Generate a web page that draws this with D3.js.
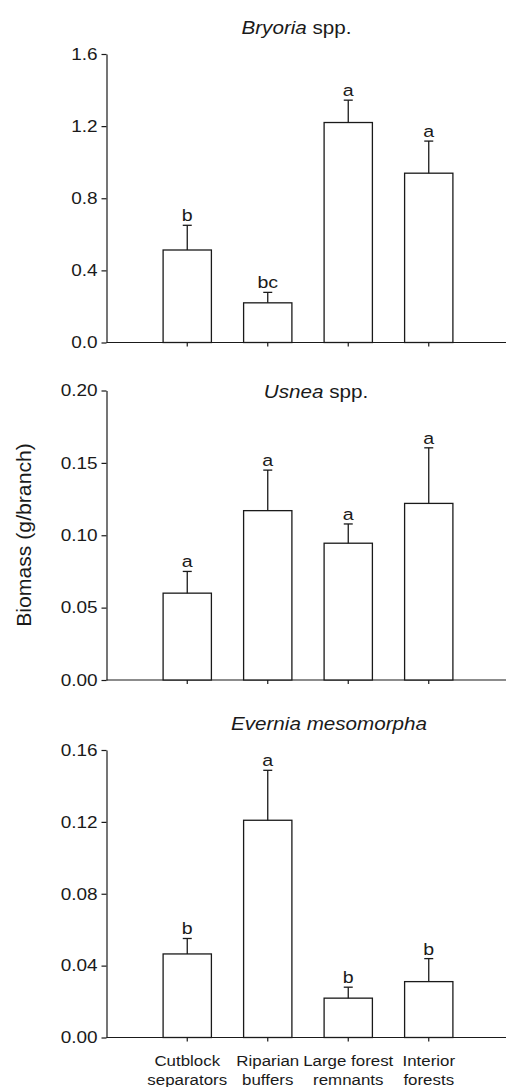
<!DOCTYPE html>
<html>
<head>
<meta charset="utf-8">
<script src="https://cdn.jsdelivr.net/npm/d3@7"></script>
<style>
  body { margin: 0; background: #fff; }
  svg { display: block; font-family: "Liberation Sans", Arial, sans-serif; }
</style>
</head>
<body>
<div id="chart"></div>
<script>
// Categories (habitat types) and the per-panel values
const categories = ["Cutblock separators", "Riparian buffers", "Large forest remnants", "Interior forests"];
const categoryLines = [["Cutblock", "separators"], ["Riparian", "buffers"], ["Large forest", "remnants"], ["Interior", "forests"]];

const bryoriaMean = [0.513, 0.220, 1.220, 0.939];
const bryoriaSE = [0.137, 0.058, 0.124, 0.178];
const bryoriaLetters = ["b", "bc", "a", "a"];
const bryoriaTicks = [0, 0.4, 0.8, 1.2, 1.6];

const usneaMean = [0.060, 0.117, 0.0945, 0.122];
const usneaSE = [0.015, 0.028, 0.0133, 0.0384];
const usneaLetters = ["a", "a", "a", "a"];
const usneaTicks = [0, 0.05, 0.10, 0.15, 0.20];

const everniaMean = [0.0465, 0.1209, 0.0219, 0.0311];
const everniaSE = [0.0086, 0.0278, 0.0061, 0.0128];
const everniaLetters = ["b", "a", "b", "b"];
const everniaTicks = [0, 0.04, 0.08, 0.12, 0.16];

const width = 506, height = 1087;
const ink = "#1a1a1a";
const axisX = 106.5;

const svg = d3.select('#chart').append('svg')
    .attr('width', width)
    .attr('height', height);

// shared x scale: four bars, one empty slot on the left like the original
const x = d3.scaleBand()
    .domain(categories)
    .range([147, 469])
    .paddingInner(0.4)
    .paddingOuter(0.2);

// layout of each panel
const panels = [
    { title: [["Bryoria", true], [" spp.", false]], mean: bryoriaMean, se: bryoriaSE, letters: bryoriaLetters,
      ticks: bryoriaTicks, fmt: ".1f", top: 54, bottom: 342.5, titleX: 296.5, titleY: 34 },
    { title: [["Usnea", true], [" spp.", false]], mean: usneaMean, se: usneaSE, letters: usneaLetters,
      ticks: usneaTicks, fmt: ".2f", top: 390.5, bottom: 680, titleX: 316, titleY: 397.5 },
    { title: [["Evernia mesomorpha", true]], mean: everniaMean, se: everniaSE, letters: everniaLetters,
      ticks: everniaTicks, fmt: ".2f", top: 750, bottom: 1037.5, titleX: 329, titleY: 730 }
];

panels.forEach(function(p, pi) {
    const y = d3.scaleLinear()
        .domain([0, d3.max(p.ticks)])
        .range([p.bottom, p.top]);

    const g = svg.append('g');

    // y axis
    const yAxis = g.append('g')
        .attr('transform', `translate(${axisX},0)`)
        .call(d3.axisLeft(y).tickValues(p.ticks).tickFormat(d3.format(p.fmt))
            .tickSize(5).tickSizeOuter(0).tickPadding(2.8));
    yAxis.select('.domain').attr('stroke', ink).attr('stroke-width', 1.2);
    yAxis.selectAll('.tick line').attr('stroke', ink).attr('stroke-width', 1.2);
    yAxis.selectAll('.tick text')
        .attr('fill', ink)
        .attr('font-size', 16.5)
        .attr('font-family', '"Liberation Sans", Arial, sans-serif')
        .attr('transform', 'scale(1.15,1)');

    // x baseline and ticks
    g.append('line')
        .attr('x1', axisX).attr('x2', 510)
        .attr('y1', p.bottom).attr('y2', p.bottom)
        .attr('stroke', ink).attr('stroke-width', 1.2);
    const xAxis = g.append('g')
        .attr('transform', `translate(0,${p.bottom})`)
        .call(d3.axisBottom(x).tickSize(4).tickFormat(''));
    xAxis.select('.domain').remove();
    xAxis.selectAll('.tick line').attr('stroke', ink).attr('stroke-width', 1.2);

    // bars
    const data = categories.map((c, i) => ({ cat: c, mean: p.mean[i], se: p.se[i], letter: p.letters[i] }));

    g.selectAll('rect.bar')
        .data(data)
        .enter().append('rect')
        .attr('class', 'bar')
        .attr('x', d => x(d.cat))
        .attr('width', x.bandwidth())
        .attr('y', d => y(d.mean))
        .attr('height', d => p.bottom - y(d.mean))
        .attr('fill', 'white')
        .attr('stroke', ink)
        .attr('stroke-width', 1.3);

    // error bars (upper only)
    const cx = d => x(d.cat) + x.bandwidth() / 2;
    g.selectAll('line.err')
        .data(data)
        .enter().append('line')
        .attr('class', 'err')
        .attr('x1', cx).attr('x2', cx)
        .attr('y1', d => y(d.mean))
        .attr('y2', d => y(d.mean + d.se))
        .attr('stroke', ink).attr('stroke-width', 1.3);
    g.selectAll('line.cap')
        .data(data)
        .enter().append('line')
        .attr('class', 'cap')
        .attr('x1', d => cx(d) - 4.5).attr('x2', d => cx(d) + 4.5)
        .attr('y1', d => y(d.mean + d.se))
        .attr('y2', d => y(d.mean + d.se))
        .attr('stroke', ink).attr('stroke-width', 1.3);

    // significance letters
    g.selectAll('text.letter')
        .data(data)
        .enter().append('text')
        .attr('class', 'letter')
        .attr('transform', d => `translate(${cx(d)},${y(d.mean + d.se) - 4}) scale(1.15,1)`)
        .attr('text-anchor', 'middle')
        .attr('font-size', 17)
        .attr('fill', ink)
        .text(d => d.letter);

    // panel title
    const title = g.append('text')
        .attr('transform', `translate(${p.titleX},${p.titleY}) scale(1.18,1)`)
        .attr('text-anchor', 'middle')
        .attr('font-size', 17.5)
        .attr('fill', ink);
    p.title.forEach(([t, italic]) => {
        title.append('tspan')
            .attr('font-style', italic ? 'italic' : 'normal')
            .text(t);
    });

    // category labels under the last panel only
    if (pi === panels.length - 1) {
        categories.forEach((c, i) => {
            categoryLines[i].forEach((line, li) => {
                g.append('text')
                    .attr('transform', `translate(${x(c) + x.bandwidth() / 2},${1066 + li * 18.5}) scale(1.09,1)`)
                    .attr('text-anchor', 'middle')
                    .attr('font-size', 15.5)
                    .attr('fill', ink)
                    .text(line);
            });
        });
    }
});

// shared y axis title
svg.append('text')
    .attr('transform', 'translate(31,535) rotate(-90) scale(1.06,1)')
    .attr('text-anchor', 'middle')
    .attr('font-size', 20)
    .attr('fill', ink)
    .text('Biomass (g/branch)');
</script>
</body>
</html>
